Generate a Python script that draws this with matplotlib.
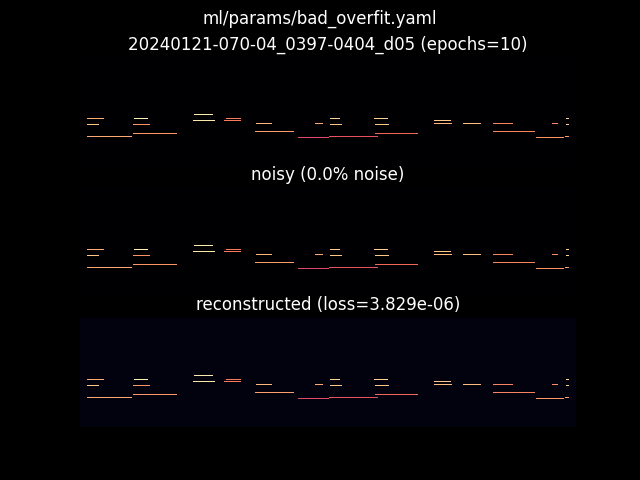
import numpy as np
import matplotlib.pyplot as plt

# piano roll size (rows x time steps)
n_rows = 109
n_steps = 496

# notes: row (from top), on/off step, velocity (0..1)
note_rows = [61, 67, 79, 61, 67, 76, 57, 63, 61, 63,
             66, 74, 66, 80, 61, 67, 79, 61, 67, 76,
             63, 66, 66, 66, 74, 80, 66, 61, 67, 79]
note_on = [7, 7, 7, 54, 53, 53, 114, 113, 146, 144,
           176, 175, 235, 218, 250, 250, 249, 294, 295, 295,
           354, 354, 383, 413, 413, 456, 472, 486, 486, 485]
note_off = [24, 19, 52, 68, 70, 97, 133, 135, 161, 161,
            192, 214, 243, 249, 260, 262, 298, 308, 309, 338,
            371, 372, 401, 433, 455, 484, 478, 489, 489, 489]
velocity = [0.83, 0.88, 0.82, 0.97, 0.78, 0.78, 0.96, 0.95, 0.72, 0.72,
            0.85, 0.80, 0.82, 0.60, 0.90, 0.88, 0.63, 0.90, 0.88, 0.68,
            0.88, 0.85, 0.86, 0.74, 0.74, 0.78, 0.76, 0.92, 0.90, 0.80]

recon_floor = 0.03  # small leftover value everywhere in the reconstruction

params_file = "ml/params/bad_overfit.yaml"
sample_name = "20240121-070-04_0397-0404_d05"
epochs = 10
noise_pct = 0.0
loss = 3.829e-06

# build the rolls
roll = np.zeros((n_rows, n_steps))
for r, a, b, v in zip(note_rows, note_on, note_off, velocity):
    roll[r, a:b] = v

noisy = roll.copy()
recon = np.where(roll > 0, roll, recon_floor)

fig, axes = plt.subplots(3, 1, figsize=(6.4, 4.8), dpi=100, facecolor="black")
fig.suptitle(params_file, color="white")

titles = [
    f"{sample_name} (epochs={epochs})",
    f"noisy ({noise_pct:.1f}% noise)",
    f"reconstructed (loss={loss:.3e})",
]
for ax, img, t in zip(axes, [roll, noisy, recon], titles):
    ax.imshow(img, cmap="magma", vmin=0, vmax=1, aspect="auto",
              interpolation="nearest")
    ax.set_title(t, color="white")
    ax.axis("off")

plt.savefig("out.png", facecolor="black")
